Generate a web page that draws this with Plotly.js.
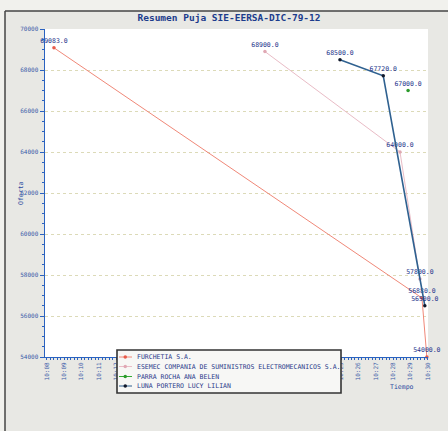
<!DOCTYPE html>
<html>
<head>
<meta charset="utf-8">
<script src="https://cdn.plot.ly/plotly-3.0.1.min.js"></script>
<style>html,body{margin:0;padding:0;background:#e8e8e4;overflow:hidden;}#chart{width:448px;height:431px;}</style>
</head>
<body>
<div id="chart"></div>
<script>
// ---- data ----
const day = '2012-12-10 ';
const seriesNames = [
  'FURCHETIA S.A.',
  'ESEMEC COMPANIA DE SUMINISTROS ELECTROMECANICOS S.A.',
  'PARRA ROCHA ANA BELEN',
  'LUNA PORTERO LUCY LILIAN'
];
const furchetiaTimes = ['10:08:25', '10:29:40', '10:29:57'];
const furchetiaValues = [69083, 56880, 54000];
const esemecTimes = ['10:20:36', '10:28:24', '10:29:33'];
const esemecValues = [68900, 64000, 57800];
const parraTimes = ['10:28:52'];
const parraValues = [67000];
const lunaTimes = ['10:24:56', '10:27:26', '10:29:50'];
const lunaValues = [68500, 67720, 56500];
const xTickFirst = '10:08';
const xAxisTitle = 'Tiempo';
const yAxisTitle = 'Oferta';
const chartTitle = 'Resumen Puja SIE-EERSA-DIC-79-12';

// ---- styling ----
const FONT = 'DejaVu Sans Mono, monospace';
const lineColors = ['#f08878', '#e9bcc6', '#33aa33', '#2f6190'];
const markerColors = ['#e85a4a', '#e0a8b4', '#2a9a2a', '#10182a'];
const labelColor = '#23338a';
const axisBlue = '#2a62c0';

function mk(times, values, i, mode) {
  return {
    type: 'scatter',
    mode: mode,
    name: seriesNames[i],
    x: times.map(t => day + t),
    y: values,
    text: values.map(v => v.toFixed(1)),
    textposition: 'top center',
    textfont: {family: FONT, size: 6.5, color: labelColor},
    cliponaxis: false,
    line: {color: lineColors[i], width: i === 3 ? 1.6 : 1},
    marker: {color: markerColors[i], size: 3.5},
    showlegend: false,
    hoverinfo: 'x+y'
  };
}

const traces = [
  mk(furchetiaTimes, furchetiaValues, 0, 'lines+markers+text'),
  mk(esemecTimes, esemecValues, 1, 'lines+markers+text'),
  mk(parraTimes, parraValues, 2, 'markers+text'),
  mk(lunaTimes, lunaValues, 3, 'lines+markers+text')
];

// plot area in pixels: x 45..428, y 29..357
const PL = 45, PR = 428, PT = 29, PB = 357;
const px = v => (v - PL) / (PR - PL);
const py = v => (PB - v) / (PB - PT);

const shapes = [
  {type: 'rect', xref: 'paper', yref: 'paper', x0: px(0), x1: px(448), y0: py(11), y1: py(0), fillcolor: '#f1f1ed', line: {width: 0}, layer: 'below'},
  {type: 'rect', xref: 'paper', yref: 'paper', x0: px(0), x1: px(5), y0: py(431), y1: py(11), fillcolor: '#f1f1ed', line: {width: 0}, layer: 'below'},
  {type: 'line', xref: 'paper', yref: 'paper', x0: px(5), x1: px(448), y0: py(11), y1: py(11), line: {color: '#444', width: 1.5}},
  {type: 'line', xref: 'paper', yref: 'paper', x0: px(5), x1: px(5), y0: py(11), y1: py(431), line: {color: '#444', width: 1.5}},
  {type: 'rect', xref: 'paper', yref: 'paper', x0: px(117), x1: px(341), y0: py(350), y1: py(393), fillcolor: '#f7f7f5', line: {color: '#333', width: 1.6}, layer: 'above'}
];

const rowsY = [357, 366.5, 376.5, 386];
const annotations = [
  {xref: 'paper', yref: 'paper', x: px(15), y: py(193), text: yAxisTitle, textangle: -90, showarrow: false,
   font: {family: FONT, size: 6.5, color: '#2a4aa0'}},
  {xref: 'paper', yref: 'paper', x: px(416), y: py(393), text: xAxisTitle, showarrow: false,
   font: {family: FONT, size: 6.5, color: '#2a4aa0'}}
];
seriesNames.forEach((n, i) => {
  shapes.push({type: 'line', xref: 'paper', yref: 'paper', x0: px(119), x1: px(132), y0: py(rowsY[i]), y1: py(rowsY[i]),
    line: {color: lineColors[i], width: 1}, layer: 'above'});
  shapes.push({type: 'circle', xref: 'paper', yref: 'paper', x0: px(123.5), x1: px(127), y0: py(rowsY[i] + 1.75), y1: py(rowsY[i] - 1.75),
    fillcolor: markerColors[i], line: {width: 0}, layer: 'above'});
  annotations.push({xref: 'paper', yref: 'paper', x: px(135), y: py(rowsY[i]), xanchor: 'left', yanchor: 'middle',
    text: n, showarrow: false, font: {family: FONT, size: 6.5, color: '#2a3a8a'}});
});

const layout = {
  width: 448, height: 431,
  margin: {l: PL, r: 448 - PR, t: PT, b: 431 - PB, pad: 0},
  paper_bgcolor: '#e8e8e4',
  plot_bgcolor: '#ffffff',
  title: {text: chartTitle, font: {family: FONT, size: 9.5, color: '#1c3c8c', weight: 'bold'},
    xref: 'paper', x: px(229), xanchor: 'center', yref: 'container', y: 1 - 18 / 431, yanchor: 'middle'},
  showlegend: false,
  xaxis: {
    type: 'date',
    range: [day + '10:07:54', day + '10:30:01'],
    tick0: day + xTickFirst, dtick: 60000, tickformat: '%H:%M', tickangle: -90,
    ticks: 'outside', ticklen: 2, tickcolor: axisBlue,
    tickfont: {family: FONT, size: 6, color: '#3a5aa8'},
    showgrid: false, zeroline: false,
    showline: true, linecolor: axisBlue, linewidth: 1,
    minor: {dtick: 12000, ticks: 'outside', ticklen: 2, tickcolor: axisBlue, showgrid: false}
  },
  yaxis: {
    range: [54000, 70000], dtick: 2000, tickformat: 'd',
    ticks: 'outside', ticklen: 4, tickcolor: axisBlue,
    tickfont: {family: FONT, size: 6, color: '#3a5aa8'},
    showgrid: true, gridcolor: '#dcdab8', griddash: 'dot', gridwidth: 1,
    zeroline: false, showline: true, linecolor: axisBlue, linewidth: 1.5,
    minor: {dtick: 500, ticks: 'outside', ticklen: 2, tickcolor: axisBlue, showgrid: false}
  },
  shapes: shapes,
  annotations: annotations
};

Plotly.newPlot('chart', traces, layout, {displayModeBar: false, staticPlot: true});
</script>
</body>
</html>
